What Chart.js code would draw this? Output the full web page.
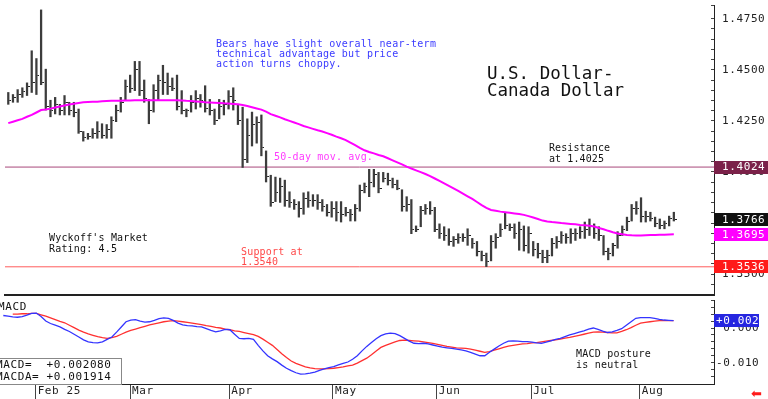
<!DOCTYPE html>
<html>
<head>
<meta charset="utf-8">
<script src="https://cdn.jsdelivr.net/npm/chart.js@4/dist/chart.umd.min.js"></script>
<style>
html,body{margin:0;padding:0;background:#fff;width:768px;height:399px;overflow:hidden;}
#wrap{position:relative;width:768px;height:399px;overflow:hidden;}
canvas{position:absolute;left:0;}
#c1{top:0;}
#c2{top:300px;}
.t{position:absolute;font-family:"DejaVu Sans Mono",monospace;white-space:pre;margin:0;}
</style>
</head>
<body>
<div id="wrap">
<canvas id="c1" width="768" height="300"></canvas>
<canvas id="c2" width="768" height="99"></canvas>

<div class="t" style="left:216px;top:38.8px;font-size:10px;letter-spacing:0.27px;line-height:10.33px;color:#3b3bff">Bears have slight overall near-term
technical advantage but price
action turns choppy.</div>
<div class="t" style="left:487px;top:64.9px;font-size:17.5px;line-height:16.7px;color:#111">U.S. Dollar-
Canada Dollar</div>
<div class="t" style="left:274px;top:151.5px;font-size:10px;letter-spacing:0.17px;line-height:10.3px;color:#ff3cff">50-day mov. avg.</div>
<div class="t" style="left:549px;top:141.8px;font-size:10px;letter-spacing:0.1px;line-height:11px;color:#111">Resistance
at 1.4025</div>
<div class="t" style="left:49px;top:231.5px;font-size:10px;letter-spacing:0.17px;line-height:11px;color:#111">Wyckoff's Market
Rating: 4.5</div>
<div class="t" style="left:241px;top:247.3px;font-size:10px;letter-spacing:0.18px;line-height:10px;color:#ff4848">Support at
1.3540</div>
<div class="t" style="left:576px;top:349px;font-size:10px;letter-spacing:0.23px;line-height:10.5px;color:#111">MACD posture
is neutral</div>
<div class="t" style="left:-2px;top:300.7px;font-size:11px;letter-spacing:0.6px;line-height:12px;color:#111">MACD</div>
<div style="position:absolute;left:-2px;top:358px;width:122px;height:25px;border:1px solid #888;background:#fff"></div>
<div class="t" id="macdBox" style="left:-4px;top:359px;font-size:11px;letter-spacing:0.6px;line-height:12px;color:#111"></div>
<div class="t" style="left:751px;top:387px;font-family:'DejaVu Sans',sans-serif;font-size:13px;line-height:13px;color:#ff1a1a">&#x2B05;</div>
</div>

<script>
// ---------------- DATA ----------------
const highs = [
1.4389,1.4379,1.4403,1.4412,1.4436,1.4593,1.4555,1.4793,1.4503,1.4351,
1.4365,1.4331,1.4374,1.4341,1.4341,1.4308,1.4198,1.4189,1.4212,1.4246,
1.4236,1.4232,1.4270,1.4327,1.4365,1.4450,1.4474,1.4541,1.4541,1.4450,
1.4355,1.4427,1.4474,1.4522,1.4484,1.4460,1.4474,1.4398,1.4308,1.4374,
1.4398,1.4379,1.4422,1.4355,1.4308,1.4355,1.4351,1.4398,1.4412,1.4327,
1.4317,1.4260,1.4293,1.4270,1.4279,1.4103,1.3984,1.3975,1.3970,1.3960,
1.3903,1.3865,1.3855,1.3898,1.3903,1.3889,1.3889,1.3865,1.3841,1.3855,
1.3855,1.3855,1.3827,1.3817,1.3841,1.3936,1.3946,1.4013,1.4013,1.3998,
1.3998,1.3994,1.3970,1.3960,1.3913,1.3879,1.3865,1.3736,1.3832,1.3841,
1.3855,1.3827,1.3746,1.3732,1.3722,1.3684,1.3698,1.3698,1.3722,1.3675,
1.3660,1.3613,1.3603,1.3689,1.3698,1.3746,1.3803,1.3746,1.3746,1.3755,
1.3736,1.3732,1.3660,1.3651,1.3617,1.3617,1.3675,1.3684,1.3708,1.3698,
1.3722,1.3722,1.3732,1.3755,1.3770,1.3746,1.3732,1.3689,1.3627,1.3651,
1.3708,1.3736,1.3779,1.3841,1.3855,1.3874,1.3808,1.3803,1.3779,1.3770,
1.3760,1.3784,1.3803];

const lows = [
1.4331,1.4341,1.4341,1.4365,1.4374,1.4389,1.4379,1.4427,1.4303,1.4270,
1.4284,1.4279,1.4279,1.4279,1.4270,1.4189,1.4151,1.4160,1.4165,1.4165,
1.4165,1.4165,1.4165,1.4246,1.4293,1.4351,1.4389,1.4398,1.4374,1.4341,
1.4236,1.4293,1.4351,1.4379,1.4379,1.4398,1.4303,1.4284,1.4270,1.4293,
1.4308,1.4317,1.4293,1.4279,1.4232,1.4260,1.4279,1.4308,1.4303,1.4232,
1.4022,1.4046,1.4127,1.4141,1.4079,1.3951,1.3832,1.3855,1.3851,1.3832,
1.3827,1.3817,1.3779,1.3793,1.3827,1.3832,1.3817,1.3808,1.3784,1.3779,
1.3760,1.3755,1.3784,1.3760,1.3760,1.3808,1.3898,1.3879,1.3927,1.3898,
1.3951,1.3936,1.3922,1.3913,1.3808,1.3808,1.3698,1.3708,1.3732,1.3793,
1.3793,1.3708,1.3675,1.3665,1.3641,1.3636,1.3651,1.3660,1.3641,1.3627,
1.3589,1.3565,1.3537,1.3565,1.3627,1.3684,1.3722,1.3713,1.3675,1.3617,
1.3613,1.3603,1.3589,1.3579,1.3556,1.3556,1.3589,1.3627,1.3651,1.3651,
1.3651,1.3665,1.3675,1.3675,1.3689,1.3675,1.3665,1.3594,1.3570,1.3589,
1.3627,1.3689,1.3713,1.3760,1.3793,1.3755,1.3755,1.3760,1.3732,1.3722,
1.3722,1.3736,1.3760];

const closes = [
1.4350,1.4365,1.4380,1.4395,1.4420,1.4440,1.4470,1.4440,1.4320,1.4300,
1.4330,1.4300,1.4340,1.4300,1.4290,1.4200,1.4170,1.4175,1.4190,1.4200,
1.4180,1.4210,1.4250,1.4300,1.4340,1.4420,1.4410,1.4500,1.4400,1.4360,
1.4300,1.4400,1.4450,1.4440,1.4420,1.4410,1.4320,1.4300,1.4300,1.4340,
1.4360,1.4350,1.4310,1.4300,1.4250,1.4320,1.4330,1.4370,1.4350,1.4250,
1.4060,1.4180,1.4230,1.4240,1.4120,1.3980,1.3850,1.3900,1.3930,1.3860,
1.3850,1.3840,1.3820,1.3870,1.3860,1.3860,1.3850,1.3830,1.3800,1.3820,
1.3800,1.3790,1.3800,1.3790,1.3820,1.3910,1.3930,1.3950,1.3990,1.3920,
1.3970,1.3960,1.3940,1.3920,1.3830,1.3840,1.3720,1.3720,1.3810,1.3820,
1.3810,1.3720,1.3700,1.3690,1.3660,1.3670,1.3680,1.3680,1.3690,1.3650,
1.3610,1.3590,1.3560,1.3660,1.3680,1.3720,1.3740,1.3730,1.3700,1.3720,
1.3640,1.3700,1.3620,1.3600,1.3580,1.3590,1.3650,1.3660,1.3690,1.3680,
1.3700,1.3700,1.3710,1.3720,1.3740,1.3700,1.3690,1.3610,1.3600,1.3640,
1.3690,1.3720,1.3760,1.3820,1.3820,1.3780,1.3780,1.3770,1.3750,1.3740,
1.3750,1.3770,1.3766];

const ma50 = [
1.4239,1.4246,1.4253,1.4260,1.4270,1.4279,1.4291,1.4303,1.4306,1.4310,
1.4315,1.4320,1.4325,1.4330,1.4334,1.4338,1.4341,1.4342,1.4343,1.4344,
1.4346,1.4347,1.4348,1.4348,1.4349,1.4350,1.4350,1.4351,1.4351,1.4351,
1.4351,1.4351,1.4351,1.4351,1.4351,1.4351,1.4351,1.4350,1.4348,1.4347,
1.4345,1.4343,1.4341,1.4340,1.4339,1.4338,1.4336,1.4335,1.4333,1.4331,
1.4328,1.4323,1.4317,1.4311,1.4305,1.4295,1.4283,1.4275,1.4267,1.4258,
1.4250,1.4242,1.4234,1.4225,1.4218,1.4211,1.4204,1.4198,1.4190,1.4182,
1.4173,1.4165,1.4156,1.4143,1.4131,1.4118,1.4106,1.4098,1.4091,1.4083,
1.4077,1.4067,1.4057,1.4047,1.4037,1.4026,1.4017,1.4008,1.3999,1.3990,
1.3980,1.3968,1.3956,1.3944,1.3932,1.3920,1.3907,1.3894,1.3881,1.3868,
1.3853,1.3838,1.3824,1.3814,1.3810,1.3806,1.3803,1.3800,1.3797,1.3794,
1.3790,1.3784,1.3777,1.3770,1.3762,1.3758,1.3755,1.3753,1.3750,1.3748,
1.3746,1.3744,1.3741,1.3739,1.3737,1.3733,1.3726,1.3720,1.3712,1.3705,
1.3699,1.3695,1.3692,1.3690,1.3689,1.3689,1.3690,1.3691,1.3692,1.3693,
1.3693,1.3694,1.3695];

const macd = [
0.0036,0.0034,0.0032,0.0031,0.0033,0.0037,0.0042,0.0043,0.0033,0.0020,
0.0013,0.0008,0.0003,-0.0004,-0.0010,-0.0018,-0.0026,-0.0034,-0.0040,-0.0042,
-0.0043,-0.0040,-0.0033,-0.0026,-0.0012,0.0003,0.0018,0.0023,0.0024,0.0020,
0.0017,0.0018,0.0022,0.0027,0.0029,0.0028,0.0022,0.0014,0.0009,0.0007,
0.0006,0.0004,0.0003,-0.0002,-0.0007,-0.0011,-0.0008,-0.0004,-0.0005,-0.0018,
-0.0030,-0.0031,-0.0030,-0.0033,-0.0050,-0.0066,-0.0080,-0.0089,-0.0097,-0.0107,
-0.0116,-0.0123,-0.0129,-0.0133,-0.0132,-0.0130,-0.0127,-0.0122,-0.0118,-0.0114,
-0.0111,-0.0106,-0.0102,-0.0098,-0.0090,-0.0080,-0.0066,-0.0053,-0.0042,-0.0031,
-0.0022,-0.0017,-0.0015,-0.0016,-0.0022,-0.0030,-0.0038,-0.0044,-0.0045,-0.0044,
-0.0046,-0.0049,-0.0052,-0.0055,-0.0057,-0.0059,-0.0061,-0.0063,-0.0066,-0.0070,
-0.0075,-0.0080,-0.0080,-0.0070,-0.0061,-0.0052,-0.0044,-0.0038,-0.0037,-0.0038,
-0.0039,-0.0039,-0.0041,-0.0043,-0.0044,-0.0041,-0.0037,-0.0033,-0.0030,-0.0025,
-0.0020,-0.0016,-0.0012,-0.0008,-0.0003,0.0000,-0.0004,-0.0009,-0.0013,-0.0011,
-0.0007,-0.0002,0.0008,0.0018,0.0028,0.0030,0.0030,0.0030,0.0028,0.0025,
0.0023,0.0022,0.0021];

const macdSignal = [
null,null,0.0040,0.0040,0.0041,0.0041,0.0042,0.0042,0.0038,0.0034,
0.0029,0.0024,0.0019,0.0015,0.0008,0.0001,-0.0006,-0.0012,-0.0017,-0.0021,
-0.0025,-0.0028,-0.0030,-0.0028,-0.0024,-0.0018,-0.0012,-0.0007,-0.0003,0.0001,
0.0005,0.0009,0.0012,0.0015,0.0018,0.0020,0.0021,0.0020,0.0018,0.0016,
0.0014,0.0012,0.0010,0.0007,0.0005,0.0002,0.0000,-0.0003,-0.0005,-0.0008,
-0.0010,-0.0013,-0.0016,-0.0019,-0.0024,-0.0032,-0.0041,-0.0050,-0.0062,-0.0074,
-0.0085,-0.0095,-0.0102,-0.0107,-0.0112,-0.0115,-0.0117,-0.0118,-0.0118,-0.0117,
-0.0116,-0.0114,-0.0112,-0.0109,-0.0107,-0.0101,-0.0094,-0.0087,-0.0077,-0.0066,
-0.0056,-0.0050,-0.0045,-0.0040,-0.0036,-0.0035,-0.0036,-0.0037,-0.0038,-0.0040,
-0.0042,-0.0044,-0.0047,-0.0050,-0.0053,-0.0055,-0.0057,-0.0058,-0.0059,-0.0061,
-0.0064,-0.0067,-0.0070,-0.0068,-0.0064,-0.0060,-0.0056,-0.0052,-0.0050,-0.0048,
-0.0046,-0.0045,-0.0043,-0.0042,-0.0040,-0.0038,-0.0036,-0.0034,-0.0032,-0.0029,
-0.0027,-0.0024,-0.0021,-0.0018,-0.0015,-0.0012,-0.0011,-0.0012,-0.0013,-0.0014,
-0.0014,-0.0010,-0.0005,0.0001,0.0008,0.0014,0.0016,0.0018,0.0020,0.0021,
0.0021,0.0021,0.0021];

const monthStarts = [7, 27, 48, 70, 92, 112, 135];
const monthLabels = ['Feb 25', 'Mar', 'Apr', 'May', 'Jun', 'Jul', 'Aug'];
const resistanceLevel = 1.4024;
const supportLevel = 1.3536;
const macdLast = 0.002080;
const macdaLast = 0.001914;

// ---------------- BUILD ----------------
const X_MIN = -0.7, X_MAX = 150.57;
const FONT = '"DejaVu Sans Mono", monospace';
const idx = highs.map((_, i) => i);
const barData = idx.map(i => ({x: i, y: [lows[i], highs[i]]}));
const closeData = idx.map(i => ({x: i, y: closes[i]}));
const maData = idx.map(i => ({x: i, y: ma50[i]}));
const macdData = idx.map(i => ({x: i, y: macd[i]}));
const sigData = idx.map(i => ({x: i, y: macdSignal[i]}));

const fmtSigned = (v, d) => (v >= 0 ? '+' : '-') + Math.abs(v).toFixed(d);
document.getElementById('macdBox').textContent =
  'MACD=  ' + fmtSigned(macdLast, 6) + '\nMACDA= ' + fmtSigned(macdaLast, 6);

// right-side close tick image
const tickImg = document.createElement('canvas');
tickImg.width = 6; tickImg.height = 1;
const tctx = tickImg.getContext('2d');
tctx.fillStyle = '#222';
tctx.fillRect(4, 0, 2, 1);

const lsPlugin = {id: 'ls', beforeDraw(c) { c.ctx.letterSpacing = '0.6px'; }};

function tagPlugin(tags, boxW, dx) {
  return {
    id: 'tags',
    afterDraw(chart) {
      const ctx = chart.ctx, ys = chart.scales.y, x0 = chart.chartArea.right;
      ctx.save();
      ctx.font = '11px ' + FONT;
      ctx.letterSpacing = '0.6px';
      ctx.textBaseline = 'middle';
      ctx.textAlign = 'left';
      tags.forEach(t => {
        const y = ys.getPixelForValue(t.value);
        ctx.fillStyle = t.bg;
        ctx.fillRect(x0, Math.round(y - 6.5), boxW, 13);
        ctx.fillStyle = '#fff';
        ctx.fillText(t.text, x0 + dx, y + 0.5);
      });
      ctx.restore();
    }
  };
}

Chart.defaults.font.family = FONT;

const lastClose = closes[closes.length - 1];
const lastMA = ma50[ma50.length - 1];

new Chart(document.getElementById('c1'), {
  type: 'bar',
  data: {
    datasets: [
      {type: 'line', data: [{x: X_MIN, y: resistanceLevel}, {x: X_MAX, y: resistanceLevel}],
       borderColor: '#a8487a', borderWidth: 1, pointRadius: 0, order: 5},
      {type: 'line', data: [{x: X_MIN, y: supportLevel}, {x: X_MAX, y: supportLevel}],
       borderColor: '#ff5c5c', borderWidth: 1, pointRadius: 0, order: 5},
      {type: 'bar', data: barData, backgroundColor: '#3c3c3c', borderWidth: 0, barThickness: 1.6, order: 3},
      {type: 'line', data: closeData, showLine: false, pointStyle: tickImg, pointRadius: 2, order: 2},
      {type: 'line', data: maData, borderColor: '#ff00ff', borderWidth: 2, pointRadius: 0, order: 1}
    ]
  },
  options: {
    responsive: false, animation: false, events: [],
    layout: {padding: 0},
    plugins: {legend: {display: false}, tooltip: {enabled: false}},
    scales: {
      x: {type: 'linear', min: X_MIN, max: X_MAX, offset: false,
          ticks: {display: false}, grid: {display: false, offset: false},
          border: {display: true, color: '#222', width: 2},
          afterFit: s => { s.height = 2; s.paddingLeft = 0; s.paddingRight = 0; }},
      y: {type: 'linear', position: 'right', min: 1.3398, max: 1.4817,
          ticks: {stepSize: 0.005, autoSkip: false, padding: 11, color: '#222',
                  font: {family: FONT, size: 11},
                  callback: v => (Math.abs(v * 40 - Math.round(v * 40)) < 1e-6) ? v.toFixed(4) : ''},
          grid: {drawOnChartArea: false, drawTicks: true, tickLength: -3, color: '#444'},
          border: {display: true, color: '#222', width: 1},
          afterFit: s => { s.width = 54; s.paddingTop = 0; s.paddingBottom = 0; }}
    }
  },
  plugins: [lsPlugin, tagPlugin([
    {value: resistanceLevel, text: resistanceLevel.toFixed(4), bg: '#7b2149'},
    {value: lastClose, text: lastClose.toFixed(4), bg: '#111'},
    {value: lastMA, text: lastMA.toFixed(4), bg: '#ff00ff'},
    {value: supportLevel, text: supportLevel.toFixed(4), bg: '#ff1a1a'}
  ], 54, 8)]
});

new Chart(document.getElementById('c2'), {
  type: 'line',
  data: {
    datasets: [
      {data: macdData, borderColor: '#3434ff', borderWidth: 1.3, pointRadius: 0, order: 1},
      {data: sigData, borderColor: '#ff3030', borderWidth: 1.3, pointRadius: 0, order: 2}
    ]
  },
  options: {
    responsive: false, animation: false, events: [],
    layout: {padding: 0},
    plugins: {legend: {display: false}, tooltip: {enabled: false}},
    scales: {
      x: {type: 'linear', min: X_MIN, max: X_MAX, offset: false,
          afterBuildTicks: s => { s.ticks = monthStarts.map(m => ({value: m - 0.15})); },
          ticks: {autoSkip: false, maxRotation: 0, minRotation: 0, align: 'start', labelOffset: 2,
                  padding: -14, color: '#222', font: {family: FONT, size: 11},
                  callback: (v, i) => monthLabels[i]},
          grid: {drawOnChartArea: false, drawTicks: true, tickLength: 15, color: '#444', offset: false},
          border: {display: true, color: '#222', width: 1},
          afterFit: s => { s.height = 15; s.paddingLeft = 0; s.paddingRight = 0; }},
      y: {type: 'linear', position: 'right', min: -0.01614, max: 0.00807,
          ticks: {stepSize: 0.002, autoSkip: false, padding: 5, color: '#222',
                  font: {family: FONT, size: 11},
                  callback: v => Math.abs(v) < 1e-9 ? ' 0.000' : (Math.abs(v + 0.01) < 1e-9 ? '-0.010' : '')},
          grid: {drawOnChartArea: false, drawTicks: true, tickLength: -3, color: '#444'},
          border: {display: true, color: '#222', width: 1},
          afterFit: s => { s.width = 54; s.paddingTop = 0; s.paddingBottom = 0; }}
    }
  },
  plugins: [lsPlugin, tagPlugin([
    {value: macd[macd.length - 1], text: fmtSigned(macdLast, 3), bg: '#2626e0'}
  ], 45, 2)]
});
</script>
</body>
</html>
